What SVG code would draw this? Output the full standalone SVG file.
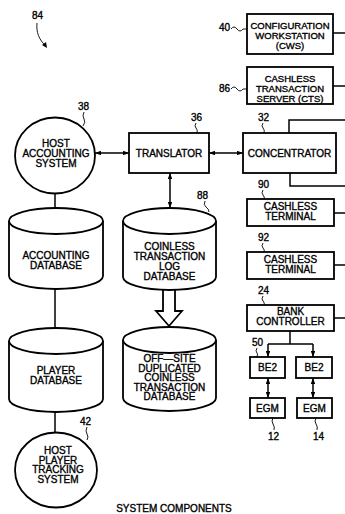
<svg xmlns="http://www.w3.org/2000/svg" width="345" height="514" viewBox="0 0 345 514">
<style>
.ln{stroke:#000;stroke-width:1.5;fill:none}
.bx{fill:#fff;stroke:#000;stroke-width:1.8}
.ld{stroke:#000;stroke-width:0.9;fill:none}
text{font-family:"Liberation Sans",Arial,sans-serif;font-size:10px;fill:#000;stroke:#000;stroke-width:0.35}
.t{text-anchor:middle}
.lb{font-size:9.5px}
</style>
<defs>
<marker id="ah" viewBox="0 0 8 6" refX="8" refY="3" markerWidth="6" markerHeight="4.5" markerUnits="userSpaceOnUse" orient="auto-start-reverse">
<path d="M0,0 L8,3 L0,6 z" fill="#000"/>
</marker>
</defs>
<rect width="345" height="514" fill="#fff"/>

<g id="connectors">
<path class="ln" d="M95,153 H129" marker-start="url(#ah)" marker-end="url(#ah)"/>
<path class="ln" d="M209,153 H243" marker-start="url(#ah)" marker-end="url(#ah)"/>
<path class="ln" d="M170,173 V208" marker-start="url(#ah)" marker-end="url(#ah)"/>
<path class="ln" d="M55,194 V208"/>
<path class="ln" d="M55,289 V328"/>
<path class="ln" d="M55,412 V433"/>
<path class="ln" d="M333,33 H345"/>
<path class="ln" d="M333,86 H345"/>
<path class="ln" d="M289,133 V120 H345"/>
<path class="ln" d="M290,173 V186 H345"/>
<path class="ln" d="M334,213 H345"/>
<path class="ln" d="M334,265 H345"/>
<path class="ln" d="M334,318 H345"/>
<path class="ln" d="M290,331 V344 M268,344 H313"/>
<path class="ln" d="M268,344 V357" marker-end="url(#ah)"/>
<path class="ln" d="M313,344 V357" marker-end="url(#ah)"/>
<path class="ln" d="M268,378 V398" marker-start="url(#ah)" marker-end="url(#ah)"/>
<path class="ln" d="M313,378 V398" marker-start="url(#ah)" marker-end="url(#ah)"/>
<path class="bx" d="M163,289 V311 H156 L169,326 L182,311 H175 V289"/>
</g>

<g id="fig84">
<text x="32" y="19">84</text>
<path class="ld" d="M37,23 C36,32 39,40 46,46" stroke-width="1.2"/>
<path d="M47,48 L42,45 L46,42 z" fill="#000"/>
</g>

<g id="host-accounting">
<ellipse class="bx" cx="55" cy="155.5" rx="40" ry="38"/>
<text class="t" x="56" y="147">HOST</text>
<text class="t" x="56" y="157">ACCOUNTING</text>
<text class="t" x="56" y="167">SYSTEM</text>
<text x="78" y="110">38</text>
<path class="ld" d="M84,112 q-2,4 0,7 t-1,7"/>
</g>

<g id="translator">
<rect class="bx" x="129" y="133" width="80" height="40"/>
<text class="t" x="169" y="157">TRANSLATOR</text>
<text x="191" y="121">36</text>
<path class="ld" d="M196,123 q-2,3 0,5 t1,5"/>
</g>

<g id="concentrator">
<rect class="bx" x="243" y="133" width="93" height="40"/>
<text class="t" x="289.5" y="157">CONCENTRATOR</text>
<text x="258" y="121">32</text>
<path class="ld" d="M263,123 q-2,3 0,5 t1,5"/>
</g>

<g id="cws">
<rect class="bx" x="247" y="14" width="86" height="40"/>
<text class="t lb" x="290" y="29">CONFIGURATION</text>
<text class="t lb" x="290" y="39">WORKSTATION</text>
<text class="t lb" x="290" y="49">(CWS)</text>
<text x="219" y="31">40</text>
<path class="ld" d="M231,29 q3,-4 6,0 t6,0 l4,0"/>
</g>

<g id="cts">
<rect class="bx" x="247" y="67" width="86" height="37"/>
<text class="t lb" x="290" y="82">CASHLESS</text>
<text class="t lb" x="290" y="92">TRANSACTION</text>
<text class="t lb" x="290" y="101.5">SERVER (CTS)</text>
<text x="219" y="92">86</text>
<path class="ld" d="M231,89 q3,-4 6,0 t6,0 l4,0"/>
</g>

<g id="terminal90">
<rect class="bx" x="247" y="199" width="87" height="27"/>
<text class="t" x="290.5" y="209.5">CASHLESS</text>
<text class="t" x="290.5" y="219.5">TERMINAL</text>
<text x="258" y="188">90</text>
<path class="ld" d="M263,190 q-2,3 0,5 t1,4"/>
</g>

<g id="terminal92">
<rect class="bx" x="247" y="252" width="87" height="27"/>
<text class="t" x="290.5" y="262.5">CASHLESS</text>
<text class="t" x="290.5" y="272.5">TERMINAL</text>
<text x="258" y="241">92</text>
<path class="ld" d="M263,243 q-2,3 0,5 t1,4"/>
</g>

<g id="bank-controller">
<rect class="bx" x="247" y="305" width="87" height="26"/>
<text class="t" x="290.5" y="315">BANK</text>
<text class="t" x="290.5" y="325">CONTROLLER</text>
<text x="258" y="294">24</text>
<path class="ld" d="M263,296 q-2,3 0,5 t1,4"/>
</g>

<g id="be2-left">
<rect class="bx" x="250" y="357" width="35" height="21"/>
<text class="t" x="267.5" y="371">BE2</text>
<text x="252" y="346">50</text>
<path class="ld" d="M257,348 q-2,3 0,5 t-1,4"/>
</g>

<g id="be2-right">
<rect class="bx" x="296" y="357" width="36" height="21"/>
<text class="t" x="314" y="371">BE2</text>
</g>

<g id="egm12">
<rect class="bx" x="250" y="398" width="35" height="20"/>
<text class="t" x="267.5" y="411.5">EGM</text>
<path class="ld" d="M273,418 q-2,3 0,6 t1,6"/>
<text x="268" y="440">12</text>
</g>

<g id="egm14">
<rect class="bx" x="297" y="398" width="35" height="20"/>
<text class="t" x="314.5" y="411.5">EGM</text>
<path class="ld" d="M316,418 q-2,3 0,6 t1,6"/>
<text x="313" y="440">14</text>
</g>

<g id="accounting-db">
<path class="bx" d="M9,221 V276 A47,13 0 0 0 103,276 V221"/>
<ellipse class="bx" cx="56" cy="221" rx="47" ry="13"/>
<text class="t" x="56" y="259">ACCOUNTING</text>
<text class="t" x="56" y="269">DATABASE</text>
</g>

<g id="coinless-db">
<path class="bx" d="M123,221 V277 A46.5,13 0 0 0 216,277 V221"/>
<ellipse class="bx" cx="169.5" cy="221" rx="46.5" ry="13"/>
<text class="t" x="169.5" y="250">COINLESS</text>
<text class="t" x="169.5" y="260">TRANSACTION</text>
<text class="t" x="169.5" y="270">LOG</text>
<text class="t" x="169.5" y="280">DATABASE</text>
<text x="197" y="199">88</text>
<path class="ld" d="M205,201 q-2,4 1,6 t3,5"/>
</g>

<g id="player-db">
<path class="bx" d="M9,341 V399 A47,13 0 0 0 103,399 V341"/>
<ellipse class="bx" cx="56" cy="341" rx="47" ry="13"/>
<text class="t" x="56" y="374">PLAYER</text>
<text class="t" x="56" y="384">DATABASE</text>
</g>

<g id="offsite-db">
<path class="bx" d="M123,340 V398 A46.5,13 0 0 0 216,398 V340"/>
<ellipse class="bx" cx="169.5" cy="340" rx="46.5" ry="13"/>
<text class="t" x="169.5" y="362">OFF—SITE</text>
<text class="t" x="169.5" y="371.5">DUPLICATED</text>
<text class="t" x="169.5" y="381">COINLESS</text>
<text class="t" x="169.5" y="390.5">TRANSACTION</text>
<text class="t" x="169.5" y="400">DATABASE</text>
</g>

<g id="host-player-tracking">
<ellipse class="bx" cx="56" cy="470" rx="41" ry="37.5"/>
<text class="t" x="58" y="454">HOST</text>
<text class="t" x="58" y="463.5">PLAYER</text>
<text class="t" x="58" y="473">TRACKING</text>
<text class="t" x="58" y="482.5">SYSTEM</text>
<text x="80" y="425">42</text>
<path class="ld" d="M87,427 q-2,4 0,7 t0,6"/>
</g>

<text class="t" x="174" y="512">SYSTEM COMPONENTS</text>
</svg>
